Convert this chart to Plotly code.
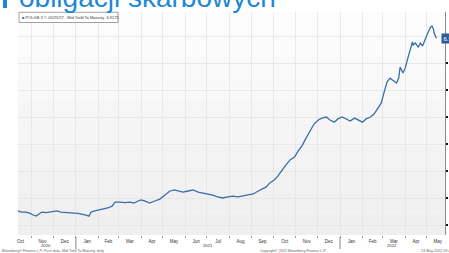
import plotly.graph_objects as go

# ---------------- data ----------------
dates = [
    "2020-10-13", "2020-10-18", "2020-10-24", "2020-10-29", "2020-11-03", "2020-11-07",
    "2020-11-11", "2020-11-15", "2020-11-21", "2020-11-26", "2020-12-02", "2020-12-06",
    "2020-12-11", "2020-12-17", "2020-12-24", "2020-12-29", "2021-01-04", "2021-01-09",
    "2021-01-15", "2021-01-19", "2021-01-22", "2021-01-27", "2021-02-03", "2021-02-09",
    "2021-02-14", "2021-02-20", "2021-02-24", "2021-03-03", "2021-03-10", "2021-03-17",
    "2021-03-22", "2021-03-28", "2021-04-01", "2021-04-06", "2021-04-13", "2021-04-20",
    "2021-04-27", "2021-05-04", "2021-05-11", "2021-05-17", "2021-05-22", "2021-05-29",
    "2021-06-05", "2021-06-12", "2021-06-19", "2021-06-26", "2021-07-03", "2021-07-09",
    "2021-07-16", "2021-07-23", "2021-07-30", "2021-08-06", "2021-08-13", "2021-08-20",
    "2021-08-27", "2021-09-03", "2021-09-10", "2021-09-15", "2021-09-21", "2021-09-26",
    "2021-10-02", "2021-10-07", "2021-10-13", "2021-10-18", "2021-10-24", "2021-10-30",
    "2021-11-04", "2021-11-10", "2021-11-15", "2021-11-21", "2021-11-26", "2021-12-02",
    "2021-12-07", "2021-12-13", "2021-12-18", "2021-12-24", "2021-12-29", "2022-01-04",
    "2022-01-09", "2022-01-15", "2022-01-21", "2022-01-26", "2022-02-01", "2022-02-06",
    "2022-02-12", "2022-02-17", "2022-02-23", "2022-02-27", "2022-03-03", "2022-03-07",
    "2022-03-11", "2022-03-15", "2022-03-20", "2022-03-23", "2022-03-25", "2022-03-29",
    "2022-04-01", "2022-04-05", "2022-04-11", "2022-04-12", "2022-04-15", "2022-04-19",
    "2022-04-22", "2022-04-25", "2022-04-29", "2022-05-01", "2022-05-06", "2022-05-08",
    "2022-05-10", "2022-05-11", "2022-05-14",
]
yields = [
    0.52, 0.48, 0.48, 0.44, 0.37, 0.33,
    0.41, 0.48, 0.46, 0.48, 0.50, 0.52,
    0.48, 0.46, 0.44, 0.44, 0.43, 0.41,
    0.37, 0.33, 0.48, 0.52, 0.56, 0.59,
    0.63, 0.70, 0.85, 0.85, 0.83, 0.85,
    0.81, 0.89, 0.93, 0.89, 0.81, 0.89,
    0.96, 1.11, 1.26, 1.30, 1.26, 1.22,
    1.26, 1.30, 1.22, 1.19, 1.15, 1.11,
    1.04, 1.00, 1.04, 1.07, 1.04, 1.07,
    1.11, 1.15, 1.26, 1.33, 1.41, 1.56,
    1.67, 1.81, 2.04, 2.22, 2.41, 2.52,
    2.74, 2.96, 3.22, 3.52, 3.74, 3.89,
    3.96, 4.00, 3.89, 3.81, 3.93, 4.00,
    3.93, 3.85, 3.96, 3.89, 3.81, 3.93,
    4.00, 4.11, 4.33, 4.52, 4.93, 5.30,
    5.44, 5.37, 5.26, 5.44, 5.85, 5.63,
    5.81, 6.22, 6.78, 6.67, 6.74, 6.59,
    6.74, 6.63, 6.93, 7.04, 7.33, 7.37,
    7.26, 7.11, 6.9175,
]
last_value = 6.9175
y_ticks = [0, 1, 2, 3, 4, 5, 6, 7]
x_range = ["2020-10-13", "2022-05-26"]
y_range = [-0.37, 7.89]
year_labels = ["2020", "2021", "2022"]
year_label_dates = ["2020-11-21", "2021-07-02", "2022-03-14"]
year_breaks = ["2021-01-01", "2022-01-01"]
title_text = "obligacji skarbowych"
legend_text = "POLGB 3 \u00bc 05/25/27 - Mid Yield To Maturity  6.9175"
footer_left = "Bloomberg\u00ae Finance L.P. Price data, Mid Yield To Maturity, daily"
footer_mid = "Copyright\u00a9 2022 Bloomberg Finance L.P."
footer_right = "13-May-2022 09:41:27"

# ---------------- layout constants ----------------
W, H = 449, 253
ML, MR, MT, MB = 18, 4, 12, 18
PW, PH = W - ML - MR, H - MT - MB


def px(x):
    return (x - ML) / PW


def py(y):
    return (H - MB - y) / PH


LINE = "#3a6ea8"
BLUE_TITLE = "#1E88D6"
GRID = "#e3e3e3"
FONT = "Liberation Sans, Arial, sans-serif"

fig = go.Figure()
fig.add_trace(go.Scatter(
    x=dates, y=yields, mode="lines",
    line=dict(color=LINE, width=1.3),
    hoverinfo="skip", showlegend=False,
))

shapes = []
# soft vertical gradient of the plot background
n = 10
for i in range(n):
    t = i / (n - 1)
    c = int(round(0xef + (0xfc - 0xef) * t))
    shapes.append(dict(type="rect", xref="paper", yref="paper",
                       x0=0, x1=1, y0=i / n, y1=(i + 1) / n,
                       fillcolor=f"rgb({c},{c},{c})", line=dict(width=0),
                       layer="below"))
# legend box
shapes.append(dict(type="rect", xref="paper", yref="paper",
                   x0=px(19), x1=px(118), y0=py(22.5), y1=py(12.3),
                   fillcolor="white", line=dict(color="#8a8a8a", width=0.8)))
# year separators
for d in year_breaks:
    shapes.append(dict(type="line", xref="x", yref="paper",
                       x0=d, x1=d, y0=py(237), y1=py(249),
                       line=dict(color="#666", width=0.8)))
# blue bar of slide title
shapes.append(dict(type="rect", xref="paper", yref="paper",
                   x0=px(3), x1=px(7), y0=py(8), y1=py(-5),
                   fillcolor=BLUE_TITLE, line=dict(width=0)))

annotations = [
    dict(text=title_text, xref="paper", yref="paper", x=px(17), y=py(-3),
         xanchor="left", yanchor="middle", showarrow=False,
         font=dict(family=FONT, size=28, color=BLUE_TITLE)),
    dict(text=f"<span style='color:{LINE}'>\u25a0</span> " + legend_text,
         xref="paper", yref="paper", x=px(20), y=py(17.4),
         xanchor="left", yanchor="middle", showarrow=False,
         font=dict(family=FONT, size=4, color="#333")),
    dict(text=f"{last_value:.2f}", xref="paper", yref="y", x=px(440.5), y=last_value,
         xanchor="left", yanchor="middle", showarrow=False,
         bgcolor="#2a5d9a", borderpad=1.5,
         font=dict(family=FONT, size=6, color="white")),
    dict(text=footer_left, xref="paper", yref="paper", x=px(0), y=py(251),
         xanchor="left", yanchor="middle", showarrow=False,
         font=dict(family=FONT, size=3.6, color="#666")),
    dict(text=footer_mid, xref="paper", yref="paper", x=px(258), y=py(251),
         xanchor="left", yanchor="middle", showarrow=False,
         font=dict(family=FONT, size=3.6, color="#666")),
    dict(text=footer_right, xref="paper", yref="paper", x=px(419), y=py(251),
         xanchor="left", yanchor="middle", showarrow=False,
         font=dict(family=FONT, size=3.6, color="#666")),
]
for lab, d in zip(year_labels, year_label_dates):
    annotations.append(dict(text=lab, xref="x", yref="paper", x=d, y=py(245.5),
                            xanchor="center", yanchor="middle", showarrow=False,
                            borderpad=0,
                            font=dict(family=FONT, size=4.2, color="#333")))

fig.update_layout(
    width=W, height=H,
    margin=dict(l=ML, r=MR, t=MT, b=MB, pad=0, autoexpand=False),
    paper_bgcolor="white", plot_bgcolor="rgba(0,0,0,0)",
    font=dict(family=FONT),
    shapes=shapes, annotations=annotations,
    xaxis=dict(type="date", range=x_range, dtick="M1", tick0="2020-10-01",
               tickformat="%b", ticklabelmode="period", automargin=False,
               showgrid=True, gridcolor=GRID, gridwidth=0.7,
               ticks="outside", ticklen=2, tickcolor="#999",
               tickfont=dict(size=4.5, color="#333"),
               showline=False, zeroline=False, fixedrange=True),
    yaxis=dict(side="right", range=y_range, tickvals=y_ticks, automargin=False,
               showgrid=True, gridcolor=GRID, gridwidth=0.7,
               ticks="outside", ticklen=2, tickwidth=1.5, tickcolor="#111",
               tickfont=dict(size=6, color="#333"),
               showline=True, linecolor="#8c8c8c", linewidth=1,
               zeroline=False, fixedrange=True),
)

fig.write_html(
    "out.html",
    config={"displayModeBar": False, "staticPlot": True},
    post_script="document.body.style.margin='0';document.body.style.overflow='hidden';",
)
